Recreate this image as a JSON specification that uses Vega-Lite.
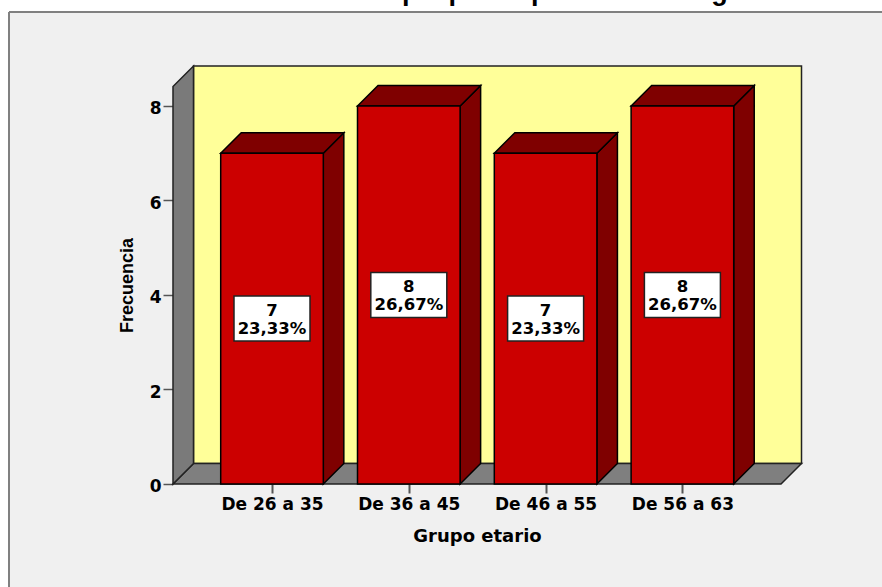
{
  "$schema": "https://vega.github.io/schema/vega-lite/v6.json",
  "autosize": "none",
  "width": 873,
  "height": 575,
  "padding": {"left": 9, "top": 12, "right": 0, "bottom": 0},
  "background": "#ffffff",
  "view": {"fill": "#f0f0f0", "stroke": null},
  "datasets": {
    "barras": [
      {"grupo": "De 26 a 35", "pos": 1, "izq": 0.625, "der": 1.375, "frecuencia": 7, "porcentaje": "23,33%", "base": 0, "cajaIzq": 0.7222, "cajaDer": 1.2778, "cajaBaja": 3.024, "cajaAlta": 3.976, "centro": 3.5},
      {"grupo": "De 36 a 45", "pos": 2, "izq": 1.625, "der": 2.375, "frecuencia": 8, "porcentaje": "26,67%", "base": 0, "cajaIzq": 1.7222, "cajaDer": 2.2778, "cajaBaja": 3.524, "cajaAlta": 4.476, "centro": 4},
      {"grupo": "De 46 a 55", "pos": 3, "izq": 2.625, "der": 3.375, "frecuencia": 7, "porcentaje": "23,33%", "base": 0, "cajaIzq": 2.7222, "cajaDer": 3.2778, "cajaBaja": 3.024, "cajaAlta": 3.976, "centro": 3.5},
      {"grupo": "De 56 a 63", "pos": 4, "izq": 3.625, "der": 4.375, "frecuencia": 8, "porcentaje": "26,67%", "base": 0, "cajaIzq": 3.7222, "cajaDer": 4.2778, "cajaBaja": 3.524, "cajaAlta": 4.476, "centro": 4}
    ],
    "lados": [
      {"grupo": "De 26 a 35", "x": 1.375, "abajo": 0, "arriba": 7},
      {"grupo": "De 26 a 35", "x": 1.525, "abajo": 0.434, "arriba": 7.434},
      {"grupo": "De 36 a 45", "x": 2.375, "abajo": 0, "arriba": 8},
      {"grupo": "De 36 a 45", "x": 2.525, "abajo": 0.434, "arriba": 8.434},
      {"grupo": "De 46 a 55", "x": 3.375, "abajo": 0, "arriba": 7},
      {"grupo": "De 46 a 55", "x": 3.525, "abajo": 0.434, "arriba": 7.434},
      {"grupo": "De 56 a 63", "x": 4.375, "abajo": 0, "arriba": 8},
      {"grupo": "De 56 a 63", "x": 4.525, "abajo": 0.434, "arriba": 8.434}
    ],
    "tapas": [
      {"grupo": "De 26 a 35", "y": 7, "desde": 0.625, "hasta": 1.375},
      {"grupo": "De 26 a 35", "y": 7.434, "desde": 0.775, "hasta": 1.525},
      {"grupo": "De 36 a 45", "y": 8, "desde": 1.625, "hasta": 2.375},
      {"grupo": "De 36 a 45", "y": 8.434, "desde": 1.775, "hasta": 2.525},
      {"grupo": "De 46 a 55", "y": 7, "desde": 2.625, "hasta": 3.375},
      {"grupo": "De 46 a 55", "y": 7.434, "desde": 2.775, "hasta": 3.525},
      {"grupo": "De 56 a 63", "y": 8, "desde": 3.625, "hasta": 4.375},
      {"grupo": "De 56 a 63", "y": 8.434, "desde": 3.775, "hasta": 4.525}
    ]
  },
  "encoding": {
    "x": {"type": "quantitative", "scale": {"domain": [-0.9225, 5.459], "nice": false, "zero": false}},
    "y": {"type": "quantitative", "scale": {"domain": [-2.18, 9.989], "nice": false, "zero": false}}
  },
  "layer": [
    {
      "description": "Titulo del grafico, recortado por el borde superior",
      "data": {"values": [{"titulo": "Cuadro 1. Edad de adultos que partió para la investigación", "x": -0.659, "y": 10.233}]},
      "mark": {"type": "text", "font": "Liberation Sans", "fontWeight": "bold", "fontSize": 27, "color": "#000000", "align": "left", "baseline": "alphabetic"},
      "encoding": {
        "x": {"field": "x", "type": "quantitative"},
        "y": {"field": "y", "type": "quantitative"},
        "text": {"field": "titulo", "type": "nominal"}
      }
    },
    {
      "description": "Marco exterior: bordes superior e izquierdo",
      "data": {"values": [{"borde": -0.9225}]},
      "mark": {"type": "rule", "color": "#808080", "strokeWidth": 2},
      "encoding": {"x": {"field": "borde", "type": "quantitative"}, "y": null}
    },
    {
      "data": {"values": [{"borde": 9.989}]},
      "mark": {"type": "rule", "color": "#808080", "strokeWidth": 2},
      "encoding": {"x": null, "y": {"field": "borde", "type": "quantitative"}}
    },
    {
      "description": "Pared del fondo",
      "data": {"values": [{"a": 0.4262, "b": 4.8706, "c": 0.434, "d": 8.847}]},
      "mark": {"type": "rect", "fill": "#ffff99", "stroke": "#222222", "strokeWidth": 1.5},
      "encoding": {
        "x": {"field": "a", "type": "quantitative"},
        "x2": {"field": "b"},
        "y": {"field": "c", "type": "quantitative"},
        "y2": {"field": "d"}
      }
    },
    {
      "description": "Suelo",
      "data": {"values": [{"y": 0, "desde": 0.2763, "hasta": 4.7208}, {"y": 0.434, "desde": 0.4262, "hasta": 4.8706}]},
      "mark": {"type": "area", "orient": "horizontal", "fill": "#7f7f7f", "stroke": "#222222", "strokeWidth": 1.5},
      "encoding": {
        "y": {"field": "y", "type": "quantitative"},
        "x": {"field": "desde", "type": "quantitative"},
        "x2": {"field": "hasta"}
      }
    },
    {
      "description": "Pared izquierda",
      "data": {"values": [{"x": 0.2763, "abajo": 0, "arriba": 8.413}, {"x": 0.4262, "abajo": 0.434, "arriba": 8.847}]},
      "mark": {"type": "area", "orient": "vertical", "fill": "#7a7a7a", "stroke": "#222222", "strokeWidth": 1.5},
      "encoding": {
        "x": {"field": "x", "type": "quantitative"},
        "y": {"field": "abajo", "type": "quantitative"},
        "y2": {"field": "arriba"}
      }
    },
    {
      "description": "Cara lateral de cada barra",
      "data": {"name": "lados"},
      "mark": {"type": "area", "orient": "vertical", "fill": "#7f0000", "stroke": "#000000", "strokeWidth": 1.5},
      "encoding": {
        "detail": {"field": "grupo"},
        "x": {"field": "x", "type": "quantitative"},
        "y": {"field": "abajo", "type": "quantitative"},
        "y2": {"field": "arriba"}
      }
    },
    {
      "description": "Cara superior de cada barra",
      "data": {"name": "tapas"},
      "mark": {"type": "area", "orient": "horizontal", "fill": "#7f0000", "stroke": "#000000", "strokeWidth": 1.5},
      "encoding": {
        "detail": {"field": "grupo"},
        "y": {"field": "y", "type": "quantitative"},
        "x": {"field": "desde", "type": "quantitative"},
        "x2": {"field": "hasta"}
      }
    },
    {
      "description": "Cara frontal con ejes de categorias y frecuencia",
      "data": {"name": "barras"},
      "mark": {"type": "rect", "fill": "#cc0000", "stroke": "#000000", "strokeWidth": 1.5},
      "encoding": {
        "x": {
          "field": "izq",
          "type": "quantitative",
          "axis": {
            "orient": "bottom",
            "offset": -103,
            "values": [1, 2, 3, 4],
            "labelExpr": "['De 26 a 35','De 36 a 45','De 46 a 55','De 56 a 63'][datum.value-1]",
            "domain": false,
            "grid": false,
            "tickColor": "#555555",
            "tickSize": 9,
            "tickWidth": 2,
            "labelFont": "DejaVu Sans",
            "labelFontWeight": "bold",
            "labelFontSize": 17,
            "labelColor": "#000000",
            "labelPadding": 3,
            "labelOverlap": false,
            "labelFlush": false,
            "title": "Grupo etario",
            "titleFont": "DejaVu Sans",
            "titleFontWeight": "bold",
            "titleFontSize": 18,
            "titleColor": "#000000",
            "titleX": 468,
            "titleY": 57,
            "titleBaseline": "alphabetic"
          }
        },
        "x2": {"field": "der"},
        "y": {
          "field": "base",
          "type": "quantitative",
          "axis": {
            "orient": "left",
            "offset": -164,
            "values": [0, 2, 4, 6, 8],
            "domain": false,
            "grid": false,
            "tickColor": "#555555",
            "tickSize": 10,
            "tickWidth": 1.5,
            "labelFont": "DejaVu Sans",
            "labelFontWeight": "bold",
            "labelFontSize": 17,
            "labelColor": "#000000",
            "labelPadding": 2,
            "labelOffset": 3,
            "title": "Frecuencia",
            "titleFont": "Liberation Sans",
            "titleFontWeight": "bold",
            "titleFontSize": 18,
            "titleColor": "#000000",
            "titleX": -41,
            "titleY": 273,
            "titleBaseline": "alphabetic"
          }
        },
        "y2": {"field": "frecuencia"}
      }
    },
    {
      "description": "Caja blanca de cada etiqueta",
      "data": {"name": "barras"},
      "mark": {"type": "rect", "fill": "#ffffff", "stroke": "#222222", "strokeWidth": 1.5},
      "encoding": {
        "x": {"field": "cajaIzq", "type": "quantitative"},
        "x2": {"field": "cajaDer"},
        "y": {"field": "cajaBaja", "type": "quantitative"},
        "y2": {"field": "cajaAlta"}
      }
    },
    {
      "data": {"name": "barras"},
      "mark": {"type": "text", "font": "DejaVu Sans", "fontWeight": "bold", "fontSize": 16.5, "color": "#000000", "baseline": "middle", "dy": -8},
      "encoding": {
        "x": {"field": "pos", "type": "quantitative"},
        "y": {"field": "centro", "type": "quantitative"},
        "text": {"field": "frecuencia", "type": "quantitative"}
      }
    },
    {
      "data": {"name": "barras"},
      "mark": {"type": "text", "font": "DejaVu Sans", "fontWeight": "bold", "fontSize": 16.5, "color": "#000000", "baseline": "middle", "dy": 10},
      "encoding": {
        "x": {"field": "pos", "type": "quantitative"},
        "y": {"field": "centro", "type": "quantitative"},
        "text": {"field": "porcentaje", "type": "nominal"}
      }
    }
  ]
}
